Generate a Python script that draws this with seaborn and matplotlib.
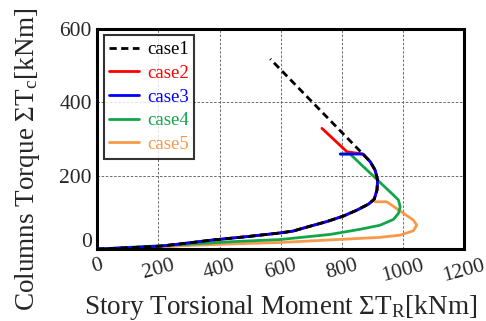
import numpy as np
import pandas as pd
import seaborn as sns
import matplotlib.pyplot as plt
import matplotlib.transforms as mtransforms

case1_x = [0, 108, 206, 271, 380, 490, 598, 640, 686, 751, 805, 849, 888, 906, 915, 917, 909, 893, 869, 566]
case1_y = [0, 4, 8, 14, 25, 34, 44, 49, 60, 75, 90, 106, 123, 136, 161, 188, 215, 238, 259, 518]

case2_x = [0, 108, 206, 271, 380, 490, 598, 640, 686, 751, 805, 849, 888, 906, 915, 917, 909, 893, 869, 817, 735]
case2_y = [0, 4, 8, 14, 25, 34, 44, 49, 60, 75, 90, 106, 123, 136, 161, 188, 215, 238, 259, 265, 329]

case3_x = [0, 108, 206, 271, 380, 490, 598, 640, 686, 751, 805, 849, 888, 906, 915, 917, 909, 893, 869, 795]
case3_y = [0, 4, 8, 14, 25, 34, 44, 49, 60, 75, 90, 106, 123, 136, 161, 188, 215, 238, 259, 259]

case4_x = [0, 108, 271, 435, 598, 762, 860, 925, 969, 985, 991, 985, 969, 827, 795]
case4_y = [0, 5, 12, 20, 26, 40, 54, 65, 81, 97, 115, 134, 147, 259, 259]

case5_x = [0, 100, 206, 271, 435, 598, 762, 925, 991, 1034, 1045, 1034, 947, 909]
case5_y = [0, 2, 5, 9, 14, 18, 25, 32, 38, 50, 65, 79, 129, 129]

cases = ["case1", "case2", "case3", "case4", "case5"]
colors = ["black", "red", "blue", "#13a54a", "#f7994a"]

sns.set_style("white")
plt.rcParams['font.family'] = ['Liberation Serif', 'DejaVu Serif']
plt.rcParams['mathtext.fontset'] = 'custom'
plt.rcParams['mathtext.rm'] = 'Liberation Serif'
plt.rcParams['mathtext.it'] = 'Liberation Serif:italic'

fig = plt.figure(figsize=(4.86, 3.21), dpi=100)
ax = fig.add_axes([0.2, 0.224, 0.755, 0.686])

data = [(case1_x, case1_y), (case2_x, case2_y), (case3_x, case3_y),
        (case4_x, case4_y), (case5_x, case5_y)]
# draw order: blue over red, black dashes over blue
order = [1, 4, 3, 2, 0]
for i in order:
    xs, ys = data[i]
    df = pd.DataFrame({"x": xs, "y": ys})
    sns.lineplot(data=df, x="x", y="y", sort=False, estimator=None, ax=ax,
                 color=colors[i], lw=2.0, label=cases[i],
                 linestyle=(0, (2.6, 1.6)) if i == 0 else "-")

ax.set_xlim(0, 1200)
ax.set_ylim(0, 600)
ax.set_xticks(np.arange(0, 1201, 200))
ax.set_yticks(np.arange(0, 601, 200))
ax.grid(True, color="#555555", linestyle=(0, (3, 2)), linewidth=0.6)
for s in ax.spines.values():
    s.set_linewidth(2.2)
    s.set_color("black")
ax.tick_params(axis="both", labelsize=15.5, length=0)
ax.tick_params(axis="x", pad=5)
ax.tick_params(axis="y", pad=4)
for lab in ax.get_xticklabels():
    lab.set_rotation(15)
ax.get_yticklabels()[0].set_transform(
    ax.get_yticklabels()[0].get_transform()
    + mtransforms.ScaledTranslation(0, 0.09, fig.dpi_scale_trans))

ax.set_xlabel(r"Story Torsional Moment $\Sigma$T$_\mathrm{R}$[kNm]", fontsize=19.5)
ax.set_ylabel(r"Columns Torque $\Sigma$T$_\mathrm{c}$[kNm]", fontsize=19.5)
ax.xaxis.set_label_coords(0.5, -0.2)
ax.yaxis.set_label_coords(-0.15, 0.41)

handles, labels = ax.get_legend_handles_labels()
hmap = dict(zip(labels, handles))
leg = ax.legend([hmap[c] for c in cases], cases, loc="upper left", fontsize=13.5,
                frameon=True, fancybox=False, handlelength=1.6, handletextpad=0.4,
                borderpad=0.3, labelspacing=0.35, borderaxespad=0.35)
leg.get_frame().set_edgecolor("black")
leg.get_frame().set_linewidth(1.5)
for t, c in zip(leg.get_texts(), colors):
    t.set_color(c)

fig.savefig("out.png", dpi=100)
